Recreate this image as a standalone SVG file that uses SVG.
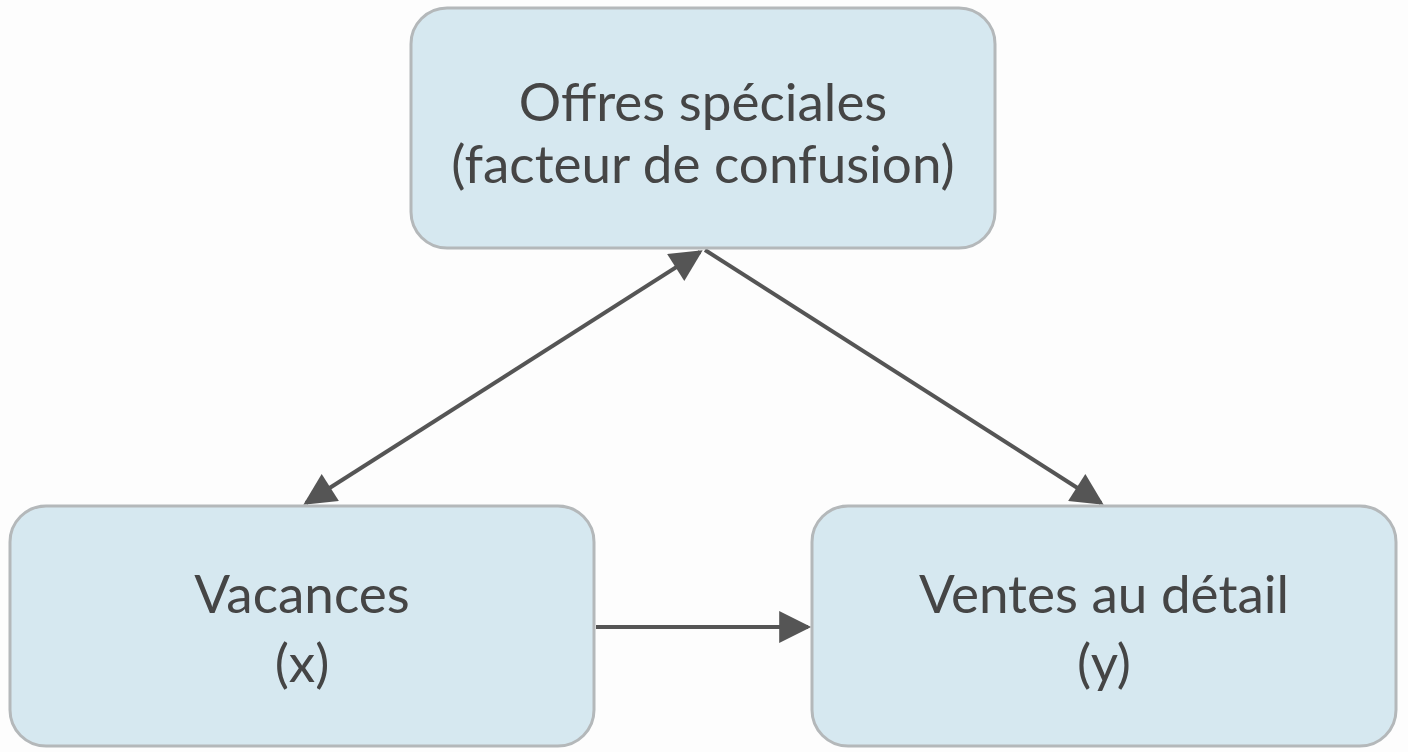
<svg xmlns="http://www.w3.org/2000/svg" width="1408" height="752" viewBox="0 0 1408 752">
<style>
.box{fill:#d6e8f0;stroke:#b4b8ba;stroke-width:3}
.t{font-family:Lato,"Liberation Sans",sans-serif;font-size:53px;fill:#454545;text-anchor:middle}
.c{stroke:#555;stroke-width:4;fill:none}
</style>
<defs>
<marker id="a" viewBox="0 0 10 10" refX="9" refY="5" markerWidth="10" markerHeight="8" markerUnits="strokeWidth" orient="auto-start-reverse">
<path d="M0,0 L10,5 L0,10 z" fill="#555"/>
</marker>
</defs>
<rect width="1408" height="752" fill="#fdfdfd"/>
<g id="connectors">
<line class="c" x1="700" y1="252" x2="306" y2="503" marker-start="url(#a)" marker-end="url(#a)"/>
<line class="c" x1="705" y1="250" x2="1101" y2="503" marker-end="url(#a)"/>
<line class="c" x1="596" y1="627" x2="808" y2="627" marker-end="url(#a)"/>
</g>
<g id="offres">
<rect class="box" x="411" y="8" width="584" height="240" rx="36"/>
<text class="t" x="703" y="121">Offres spéciales</text>
<text class="t" x="703" y="183">(facteur de confusion)</text>
</g>
<g id="vacances">
<rect class="box" x="10" y="506" width="584" height="240" rx="36"/>
<text class="t" x="302" y="613">Vacances</text>
<text class="t" x="302" y="682">(x)</text>
</g>
<g id="ventes">
<rect class="box" x="812" y="506" width="584" height="240" rx="36"/>
<text class="t" x="1104" y="613">Ventes au détail</text>
<text class="t" x="1104" y="682">(y)</text>
</g>
</svg>
